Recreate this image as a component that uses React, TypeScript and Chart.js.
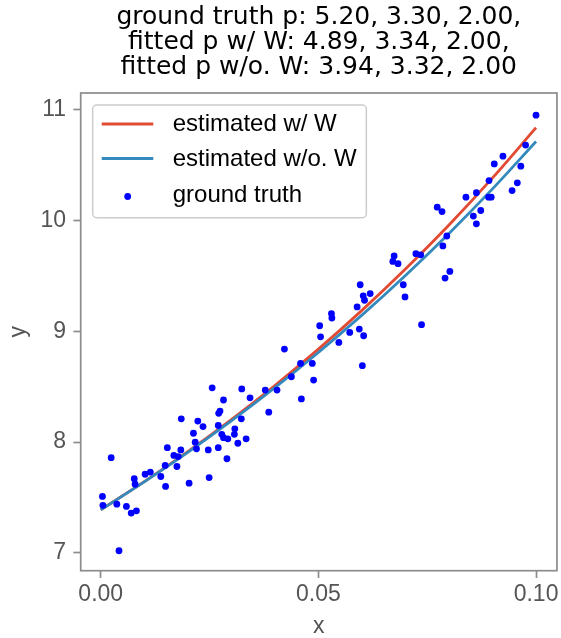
import React, { useEffect, useRef } from "react";
import { Chart, registerables } from "chart.js";

Chart.register(...registerables);

const titleLines = [
  "ground truth p: 5.20, 3.30, 2.00,",
  "fitted p w/ W: 4.89, 3.34, 2.00,",
  "fitted p w/o. W: 3.94, 3.32, 2.00",
];
const seriesLabels = ["estimated w/ W", "estimated w/o. W", "ground truth"];
const seriesColors = ["#E24A33", "#348ABD", "#0000FF"];

const lineX = [0, 0.01, 0.02, 0.03, 0.04, 0.05, 0.06, 0.07, 0.08, 0.09, 0.1];
const estWithW = [7.389, 7.643, 7.914, 8.203, 8.511, 8.839, 9.189, 9.562, 9.959, 10.384, 10.837];
const estWithoutW = [7.389, 7.641, 7.908, 8.191, 8.491, 8.809, 9.146, 9.504, 9.883, 10.285, 10.713];

const truthX = [
  0.0004, 0.0005, 0.0024, 0.0037, 0.0042, 0.0059, 0.007, 0.0082, 0.0077, 0.0079,
  0.0102, 0.0114, 0.0138, 0.0149, 0.0148, 0.0153, 0.0168, 0.0178, 0.0175, 0.0184,
  0.0185, 0.0203, 0.0213, 0.0217, 0.022, 0.0223, 0.0235, 0.0247, 0.0249, 0.0256,
  0.027, 0.027, 0.0271, 0.0274, 0.0282, 0.0278, 0.0282, 0.0292, 0.029, 0.0308,
  0.0307, 0.0315, 0.0324, 0.0323, 0.0334, 0.0343, 0.0378, 0.0386, 0.0405, 0.0422,
  0.0438, 0.0459, 0.0461, 0.0486, 0.0489, 0.0503, 0.0505, 0.053, 0.0531, 0.0547,
  0.0572, 0.0589, 0.0594, 0.0601, 0.0604, 0.0596, 0.0603, 0.0606, 0.0619, 0.0674,
  0.0671, 0.0683, 0.0695, 0.0699, 0.0724, 0.0735, 0.0737, 0.0773, 0.0784, 0.0786,
  0.0795, 0.0791, 0.0802, 0.0839, 0.0856, 0.0863, 0.0863, 0.0873, 0.0892, 0.0891,
  0.0897, 0.0904, 0.0924, 0.0945, 0.0957, 0.0965, 0.0976, 0.1,
];
const truthY = [
  7.51, 7.43, 7.86, 7.44, 7.02, 7.42, 7.36, 7.38, 7.67, 7.62,
  7.71, 7.73, 7.69, 7.6, 7.79, 7.95, 7.88, 7.87, 7.78, 7.93,
  8.21, 7.63, 8.08, 8.0, 7.94, 8.19, 8.14, 7.93, 7.68, 8.49,
  7.95, 8.15, 8.26, 8.28, 8.38, 8.07, 8.04, 8.03, 7.85, 8.12,
  8.07, 7.99, 8.48, 8.21, 8.03, 8.4, 8.47, 8.27, 8.47, 8.84,
  8.59, 8.71, 8.39, 8.71, 8.56, 9.05, 8.95, 9.16, 9.12, 8.9,
  8.99, 9.22, 9.02, 8.69, 8.96, 9.42, 9.32, 9.28, 9.34, 9.68,
  9.63, 9.61, 9.42, 9.31, 9.7, 9.69, 9.06, 10.12, 10.08, 9.77,
  9.86, 9.48, 9.54, 10.21, 10.04, 9.97, 10.25, 10.09, 10.36, 10.21,
  10.21, 10.51, 10.58, 10.27, 10.34, 10.49, 10.68, 10.95,
];

const xTicks = [0, 0.05, 0.1];
const xTickLabels = ["0.00", "0.05", "0.10"];
const yTicks = [7, 8, 9, 10, 11];
const yTickLabels = ["7", "8", "9", "10", "11"];

const TITLE_FONT = "'DejaVu Sans', sans-serif";
const FONT = "'Liberation Sans', Arial, sans-serif";
const GREY = "#8c8c8c";
const TICK_TEXT = "#555555";

const framePlugin = {
  id: "frame",
  afterDraw(chart: any) {
    const { ctx, chartArea: a } = chart;
    ctx.save();
    ctx.strokeStyle = GREY;
    ctx.lineWidth = 1.7;
    ctx.strokeRect(a.left, a.top, a.right - a.left, a.bottom - a.top);
    ctx.restore();
  },
};

const legendPlugin = {
  id: "insideLegend",
  afterDraw(chart: any) {
    const { ctx, chartArea: a } = chart;
    ctx.save();
    ctx.font = `24px ${FONT}`;
    const textX = a.left + 92;
    const maxW = Math.max(...seriesLabels.map((t) => ctx.measureText(t).width));
    const bx = a.left + 12;
    const by = a.top + 12;
    const bw = textX + maxW + 9.6 - bx;
    const bh = 112.7;
    ctx.beginPath();
    ctx.roundRect(bx, by, bw, bh, 4);
    ctx.fillStyle = "rgba(255,255,255,0.8)";
    ctx.fill();
    ctx.strokeStyle = "#cccccc";
    ctx.lineWidth = 1.5;
    ctx.stroke();
    const handleRows = [by + 19, by + 53.5, by + 91.5];
    const textRows = [by + 19, by + 54, by + 90.5];
    seriesLabels.forEach((label, i) => {
      const y = handleRows[i];
      if (i < 2) {
        ctx.beginPath();
        ctx.moveTo(a.left + 21, y);
        ctx.lineTo(a.left + 72.6, y);
        ctx.strokeStyle = seriesColors[i];
        ctx.lineWidth = 2.8;
        ctx.stroke();
      } else {
        ctx.beginPath();
        ctx.arc(a.left + 47, y, 3.4, 0, Math.PI * 2);
        ctx.fillStyle = seriesColors[i];
        ctx.fill();
      }
      ctx.fillStyle = "#000000";
      ctx.textBaseline = "middle";
      ctx.textAlign = "left";
      ctx.fillText(label, textX, textRows[i]);
    });
    ctx.restore();
  },
};

export default function App() {
  const canvasRef = useRef<HTMLCanvasElement | null>(null);

  useEffect(() => {
    const canvas = canvasRef.current;
    if (!canvas) return;
    const chart = new Chart(canvas, {
      type: "scatter",
      data: {
        datasets: [
          {
            label: seriesLabels[0],
            data: lineX.map((x, i) => ({ x, y: estWithW[i] })),
            showLine: true,
            borderColor: seriesColors[0],
            backgroundColor: seriesColors[0],
            borderWidth: 2.8,
            pointRadius: 0,
            cubicInterpolationMode: "monotone",
            order: 3,
          },
          {
            label: seriesLabels[1],
            data: lineX.map((x, i) => ({ x, y: estWithoutW[i] })),
            showLine: true,
            borderColor: seriesColors[1],
            backgroundColor: seriesColors[1],
            borderWidth: 2.8,
            pointRadius: 0,
            cubicInterpolationMode: "monotone",
            order: 2,
          },
          {
            label: seriesLabels[2],
            data: truthX.map((x, i) => ({ x, y: truthY[i] })),
            showLine: false,
            backgroundColor: seriesColors[2],
            borderColor: seriesColors[2],
            borderWidth: 0,
            pointRadius: 3.4,
            pointHoverRadius: 3.4,
            order: 1,
          },
        ],
      },
      options: {
        responsive: false,
        animation: false,
        devicePixelRatio: 1,
        layout: { padding: { left: 0, right: 3, top: 0, bottom: 0 } },
        plugins: {
          legend: { display: false },
          tooltip: { enabled: false },
          title: {
            display: true,
            text: titleLines,
            fullSize: false,
            color: "#000000",
            font: { family: TITLE_FONT, size: 25, weight: "normal", lineHeight: 1.0 },
            padding: { top: 5, bottom: 13 },
          },
        },
        scales: {
          x: {
            type: "linear",
            min: -0.0046,
            max: 0.1048,
            afterBuildTicks: (s: any) => {
              s.ticks = xTicks.map((v) => ({ value: v }));
            },
            afterFit: (s: any) => {
              s.height = 67.3;
            },
            ticks: {
              callback: (_v: any, i: number) => xTickLabels[i],
              color: TICK_TEXT,
              font: { family: FONT, size: 23 },
              padding: 2.4,
              maxRotation: 0,
              autoSkip: false,
            },
            grid: {
              drawOnChartArea: false,
              drawTicks: true,
              tickLength: 7.3,
              tickColor: GREY,
              tickWidth: 1.7,
            },
            border: { display: false },
            title: {
              display: true,
              text: "x",
              color: TICK_TEXT,
              font: { family: FONT, size: 23, lineHeight: 1.0 },
              padding: { top: 0, bottom: 0 },
            },
          },
          y: {
            type: "linear",
            min: 6.84,
            max: 11.15,
            afterBuildTicks: (s: any) => {
              s.ticks = yTicks.map((v) => ({ value: v }));
            },
            afterFit: (s: any) => {
              s.width = 80.7;
            },
            ticks: {
              callback: (_v: any, i: number) => yTickLabels[i],
              color: TICK_TEXT,
              font: { family: FONT, size: 23 },
              padding: 7.3,
              autoSkip: false,
            },
            grid: {
              drawOnChartArea: false,
              drawTicks: true,
              tickLength: 7.3,
              tickColor: GREY,
              tickWidth: 1.7,
            },
            border: { display: false },
            title: {
              display: true,
              text: "y",
              color: TICK_TEXT,
              font: { family: FONT, size: 23, lineHeight: 1.0 },
              padding: { top: 7.6, bottom: 0 },
            },
          },
        },
      },
      plugins: [framePlugin, legendPlugin],
    });
    return () => chart.destroy();
  }, []);

  return (
    <div style={{ position: "absolute", left: 0, top: 0, width: 561, height: 638, background: "#ffffff" }}>
      <canvas ref={canvasRef} width={561} height={638} style={{ display: "block" }} />
    </div>
  );
}
